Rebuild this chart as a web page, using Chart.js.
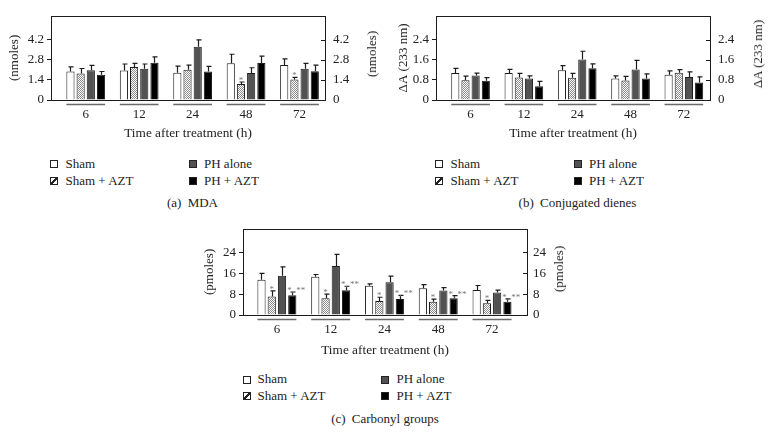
<!DOCTYPE html>
<html>
<head>
<meta charset="utf-8">
<script src="https://cdn.jsdelivr.net/npm/chart.js@4.4.1/dist/chart.umd.min.js"></script>
<style>
  html, body { margin: 0; padding: 0; background: #fff; }
  body { width: 769px; height: 446px; position: relative; overflow: hidden;
         font-family: "Liberation Serif", "DejaVu Serif", serif; color: #222; }
  canvas { position: absolute; }
  .lg { position: absolute; font-size: 13px; line-height: 16px; white-space: nowrap; }
  .sw { position: absolute; width: 6px; height: 6px; border: 1px solid #222; }
  .cap { position: absolute; font-size: 13px; line-height: 16px; white-space: nowrap; transform: translateX(-50%); }
  .rt { position: absolute; font-size: 13px; line-height: 16px; white-space: nowrap;
        transform: translate(-50%, -50%) rotate(-90deg); }
</style>
</head>
<body>
<canvas id="mda" width="385" height="141" style="left:0;top:0"></canvas>
<canvas id="dienes" width="384" height="141" style="left:385px;top:0"></canvas>
<canvas id="carbonyl" width="380" height="143" style="left:195px;top:215px"></canvas>
<script>
// Values (mean and SD, bars go up only).
const hours = ["6", "12", "24", "48", "72"];
const seriesNames = ["Sham", "Sham + AZT", "PH alone", "PH + AZT"];

// (a) MDA, nmoles
const mdaSham = [1.98, 2.05, 1.90, 2.55, 2.44];
const mdaShamSd = [0.32, 0.45, 0.46, 0.63, 0.42];
const mdaShamAzt = [1.84, 2.30, 2.11, 1.11, 1.42];
const mdaShamAztSd = [0.35, 0.25, 0.31, 0.14, 0.15];
const mdaPh = [2.07, 2.17, 3.70, 1.88, 2.17];
const mdaPhSd = [0.33, 0.33, 0.48, 0.36, 0.38];
const mdaPhAzt = [1.76, 2.59, 1.98, 2.57, 2.00];
const mdaPhAztSd = [0.22, 0.40, 0.36, 0.48, 0.42];
const mdaShamAztMarks = ["", "", "", "*", "*"];
const mdaTicks = [0, 1.4, 2.8, 4.2];
const mdaTickLabels = ["0", "1.4", "2.8", "4.2"];

// (b) Conjugated dienes, ΔA (233 nm)
const dieSham = [1.07, 1.07, 1.18, 0.86, 1.00];
const dieShamSd = [0.19, 0.15, 0.19, 0.10, 0.16];
const dieShamAzt = [0.79, 0.90, 0.89, 0.78, 1.08];
const dieShamAztSd = [0.16, 0.16, 0.17, 0.16, 0.13];
const diePh = [0.97, 0.86, 1.61, 1.21, 0.92];
const diePhSd = [0.10, 0.10, 0.33, 0.37, 0.20];
const diePhAzt = [0.77, 0.55, 1.26, 0.86, 0.70];
const diePhAztSd = [0.12, 0.19, 0.18, 0.18, 0.22];
const dieTicks = [0, 0.8, 1.6, 2.4];
const dieTickLabels = ["0", "0.8", "1.6", "2.4"];

// (c) Carbonyl groups, pmoles
const carSham = [13.5, 14.6, 11.2, 10.2, 9.6];
const carShamSd = [2.4, 0.9, 0.7, 1.4, 1.7];
const carShamAzt = [7.1, 6.4, 5.4, 5.1, 4.5];
const carShamAztSd = [2.1, 1.6, 1.4, 1.0, 1.1];
const carPh = [15.0, 18.8, 12.5, 9.4, 8.6];
const carPhSd = [3.4, 4.4, 2.4, 1.1, 0.9];
const carPhAzt = [7.6, 9.5, 6.1, 6.4, 5.1];
const carPhAztSd = [1.2, 1.5, 1.4, 1.0, 1.1];
const carShamAztMarks = ["*", "*", "*", "*", "*"];
const carPhAztMarks = ["*, **", "*, **", "*, **", "*, **", "*, **"];
const carTicks = [0, 8, 16, 24];
const carTickLabels = ["0", "8", "16", "24"];

const SERIF = '"Liberation Serif", "DejaVu Serif", serif';
Chart.defaults.font.family = SERIF;
Chart.defaults.font.size = 13;
Chart.defaults.color = "#222";

function hatchPattern() {
  const c = document.createElement("canvas");
  c.width = 2; c.height = 2;
  const g = c.getContext("2d");
  g.fillStyle = "#fff";
  g.fillRect(0, 0, 2, 2);
  g.fillStyle = "#8c8c8c";
  g.fillRect(0, 0, 1, 1); g.fillRect(1, 1, 1, 1);
  return g.createPattern(c, "repeat");
}
const FILLS = ["#ffffff", hatchPattern(), "#525252", "#000000"];
const INK = "#1c1c1c";

// Box around the plot + inward tick marks on the right axis.
const frame = {
  id: "frame",
  afterDraw(chart) {
    const { ctx, chartArea: a } = chart;
    const y2 = chart.scales.y2;
    ctx.save();
    ctx.strokeStyle = INK;
    ctx.lineWidth = 1;
    ctx.strokeRect(Math.round(a.left) + 0.5, Math.round(a.top) + 0.5,
      Math.round(a.right - a.left), Math.round(a.bottom - a.top));
    ctx.beginPath();
    y2.ticks.forEach((t) => {
      const py = Math.round(y2.getPixelForValue(t.value)) + 0.5;
      ctx.moveTo(a.right - 4, py);
      ctx.lineTo(a.right, py);
    });
    ctx.stroke();
    ctx.restore();
  },
};

// Upward SD whiskers plus significance marks.
const errorBars = {
  id: "errorBars",
  afterDatasetsDraw(chart) {
    const { ctx } = chart;
    const ys = chart.scales.y;
    ctx.save();
    chart.data.datasets.forEach((ds, di) => {
      const meta = chart.getDatasetMeta(di);
      meta.data.forEach((bar, i) => {
        const v = ds.data[i].y;
        const top = ys.getPixelForValue(v + ds.err[i]);
        const x = Math.round(bar.x) + 0.5;
        ctx.strokeStyle = INK;
        ctx.lineWidth = 1.2;
        ctx.beginPath();
        ctx.moveTo(x, bar.y);
        ctx.lineTo(x, top);
        ctx.moveTo(x - 2, top);
        ctx.lineTo(x + 3, top);
        ctx.stroke();
        if (ds.marks && ds.marks[i]) {
          ctx.fillStyle = "#777";
          ctx.font = "9px " + SERIF;
          ctx.textBaseline = "alphabetic";
          if (ds.marks[i] === "*") {
            ctx.textAlign = "center";
            ctx.fillText(ds.marks[i], bar.x, top + 1);
          } else {
            ctx.textAlign = "left";
            ctx.fillText(ds.marks[i], bar.x - bar.width / 2 - 1, top + 1);
          }
        }
      });
    });
    ctx.restore();
  },
};

// Gray rule under each time group.
const groupRules = {
  id: "groupRules",
  afterDraw(chart) {
    const { ctx, chartArea: a } = chart;
    const first = chart.getDatasetMeta(0).data;
    const last = chart.getDatasetMeta(chart.data.datasets.length - 1).data;
    ctx.save();
    ctx.strokeStyle = "#6a6a6a";
    ctx.lineWidth = 1.5;
    ctx.beginPath();
    first.forEach((b, i) => {
      const e = last[i];
      ctx.moveTo(b.x - b.width / 2, a.bottom + 4.5);
      ctx.lineTo(e.x + e.width / 2, a.bottom + 4.5);
    });
    ctx.stroke();
    ctx.restore();
  },
};

function series(values, sd, i, marks) {
  return {
    label: seriesNames[i],
    data: values.map((v, k) => ({ x: k, y: v })),
    err: sd,
    marks: marks || null,
    backgroundColor: FILLS[i],
    borderColor: INK,
    borderWidth: 1,
    categoryPercentage: 0.763,
    barPercentage: 0.8,
  };
}

function panel(id, datasets, p) {
  const yCommon = {
    min: 0,
    max: p.yMax,
    afterBuildTicks: (s) => { s.ticks = p.ticks.map((v) => ({ value: v })); },
  };
  return new Chart(document.getElementById(id), {
    type: "bar",
    data: { datasets },
    options: {
      responsive: false,
      animation: false,
      layout: { padding: { top: p.top, left: 0, right: 0, bottom: 0 } },
      plugins: { legend: { display: false }, tooltip: { enabled: false } },
      scales: {
        x: {
          type: "linear",
          offset: false,
          min: p.xMin,
          max: p.xMax,
          afterBuildTicks: (s) => { s.ticks = hours.map((h, i) => ({ value: i })); },
          afterFit: (s) => { s.height = p.xHeight; },
          ticks: { callback: (v) => hours[v], padding: 7, maxRotation: 0, autoSkip: false },
          grid: { display: false, drawTicks: false, offset: false },
          border: { display: false },
          title: { display: true, text: "Time after treatment (h)", font: { size: 13.3 }, padding: 0 },
        },
        y: {
          ...yCommon,
          position: "left",
          afterFit: (s) => { s.width = p.leftW; },
          ticks: { callback: (v, i) => p.labels[i], padding: 3 },
          grid: { drawOnChartArea: false, drawTicks: true, tickLength: 4, color: INK },
          border: { display: false },
          title: { display: true, text: p.yTitle, padding: { top: p.leftTitlePad, bottom: 0 } },
        },
        y2: {
          ...yCommon,
          position: "right",
          afterFit: (s) => { s.width = p.rightW; },
          ticks: { callback: (v, i) => p.labels[i], padding: p.rightTickPad },
          grid: { display: false, drawTicks: false },
          border: { display: false },
        },
      },
    },
    plugins: [frame, errorBars, groupRules],
  });
}

panel("mda", [
  series(mdaSham, mdaShamSd, 0),
  series(mdaShamAzt, mdaShamAztSd, 1, mdaShamAztMarks),
  series(mdaPh, mdaPhSd, 2),
  series(mdaPhAzt, mdaPhAztSd, 3),
], {
  yMax: 5.85, ticks: mdaTicks, labels: mdaTickLabels, yTitle: "(nmoles)",
  top: 7, xHeight: 41, xMin: -0.65, xMax: 4.477,
  leftW: 51, rightW: 60, rightTickPad: 8, leftTitlePad: 7,
});

panel("dienes", [
  series(dieSham, dieShamSd, 0),
  series(dieShamAzt, dieShamAztSd, 1),
  series(diePh, diePhSd, 2),
  series(diePhAzt, diePhAztSd, 3),
], {
  yMax: 3.35, ticks: dieTicks, labels: dieTickLabels, yTitle: "\u0394A (233 nm)",
  top: 7, xHeight: 41, xMin: -0.648, xMax: 4.49,
  leftW: 51, rightW: 59, rightTickPad: 8, leftTitlePad: 10.5,
});

panel("carbonyl", [
  series(carSham, carShamSd, 0),
  series(carShamAzt, carShamAztSd, 1, carShamAztMarks),
  series(carPh, carPhSd, 2),
  series(carPhAzt, carPhAztSd, 3, carPhAztMarks),
], {
  yMax: 33, ticks: carTicks, labels: carTickLabels, yTitle: "(pmoles)",
  top: 7.3, xHeight: 43, xMin: -0.63, xMax: 4.65,
  leftW: 48, rightW: 48, rightTickPad: 6, leftTitlePad: 7,
});

// Legends (two columns), captions and right-hand axis titles as page text.
const swatchCss = [
  "background:#fff",
  "background:linear-gradient(135deg,#fff 38%,#222 38%,#222 62%,#fff 62%)",
  "background:#525252",
  "background:#000",
];
function addText(cls, x, y, html, css) {
  const d = document.createElement("div");
  d.className = cls;
  d.style.cssText = `left:${x}px;top:${y}px;${css || ""}`;
  d.innerHTML = html;
  document.body.appendChild(d);
}
function legend(sqL, txtL, sqR, txtR, row1, row2) {
  const spots = [[sqL, txtL, row1], [sqL, txtL, row2], [sqR, txtR, row1], [sqR, txtR, row2]];
  spots.forEach(([sx, tx, cy], i) => {
    addText("sw", sx, cy - 3.5, "", swatchCss[i]);
    addText("lg", tx, cy - 8, seriesNames[i]);
  });
}
legend(50, 65.5, 189, 204, 163.5, 180.5);
legend(435, 450.5, 574, 589, 163.5, 180.5);
legend(243, 257.5, 381, 396.5, 379, 395.5);
addText("cap", 192.5, 195, '(a) <span style="margin-left:3px">MDA</span>');
addText("cap", 577.5, 195, '(b) <span style="margin-left:3px">Conjugated dienes</span>');
addText("cap", 385, 411, '(c) <span style="margin-left:3px">Carbonyl groups</span>');
addText("rt", 371.5, 53.5, "(nmoles)");
addText("rt", 758, 53.5, "\u0394A (233 nm)");
addText("rt", 559, 268.5, "(pmoles)");
</script>
</body>
</html>
